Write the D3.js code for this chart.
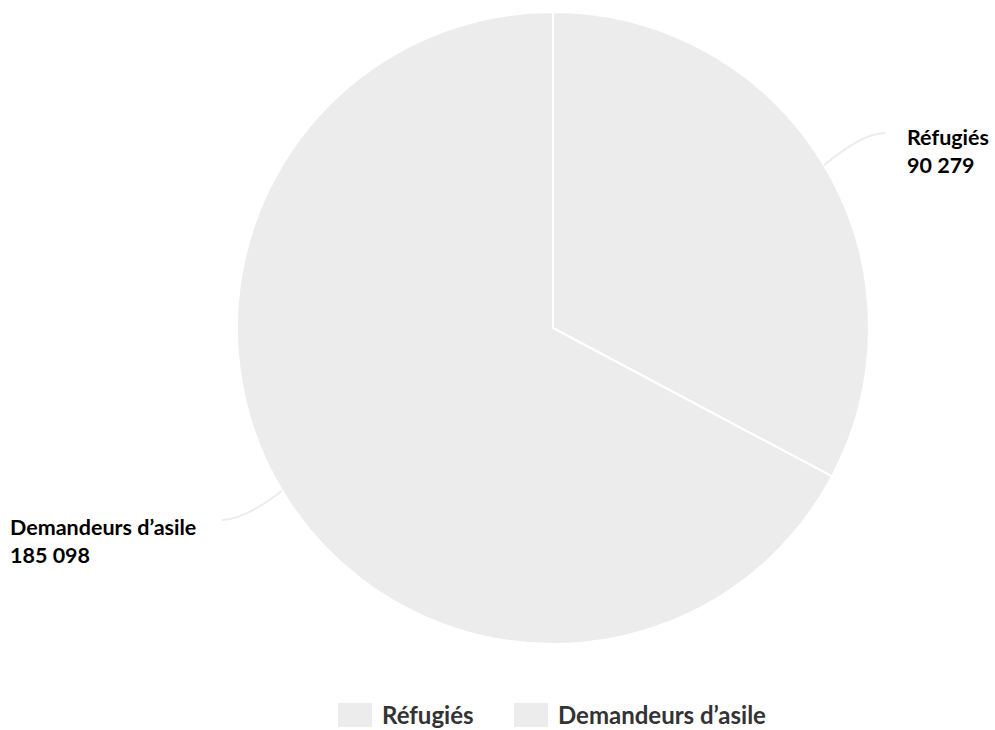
<!DOCTYPE html>
<html><head><meta charset="utf-8">
<script src="https://cdn.jsdelivr.net/npm/d3@7/dist/d3.min.js"></script>
<style>body{margin:0;background:#fff;font-family:Lato,sans-serif}</style>
</head><body><svg id="c" width="995" height="730"></svg>
<script>
const categories = ["Réfugiés", "Demandeurs d’asile"];
const values = [90279, 185098];
const valueLabels = ["90 279", "185 098"];

const svg = d3.select("#c");
const cx = 553, cy = 328, r = 316;
const color = d3.scaleOrdinal().domain(categories).range(["#ececec", "#ececec"]);
const data = categories.map((c, i) => ({cat: c, v: values[i], lab: valueLabels[i]}));
const pie = d3.pie().value(d => d.v).sort(null);
const arcs = pie(data);
const arc = d3.arc().innerRadius(0).outerRadius(r);
const g = svg.append("g").attr("transform", `translate(${cx},${cy})`);

arcs.forEach((a, i) => {
  const mid = (a.startAngle + a.endAngle) / 2;
  const p0 = [cx + r * Math.sin(mid), cy - r * Math.cos(mid)];
  const right = Math.sin(mid) > 0;
  const endX = right ? 885 : 222;
  const endY = right ? 133 : 520;
  const ctrl = [right ? endX - 22 : endX + 22, endY];
  const path = d3.path();
  path.moveTo(p0[0], p0[1]);
  path.quadraticCurveTo(ctrl[0], ctrl[1], endX, endY);
  svg.append("path").attr("d", path.toString()).attr("fill", "none")
    .attr("stroke", "#ececec").attr("stroke-width", 2);
});

g.selectAll("path.s").data(arcs).join("path").attr("class", "s")
  .attr("d", arc).attr("fill", d => color(d.data.cat))
  .attr("stroke", "#fff").attr("stroke-width", 2).attr("stroke-linejoin", "round");

arcs.forEach((a, i) => {
  const mid = (a.startAngle + a.endAngle) / 2;
  const right = Math.sin(mid) > 0;
  const x = right ? 907 : 10;
  const y = right ? 145 : 535;
  const t = svg.append("text").attr("x", x).attr("y", y)
    .attr("font-family", "Lato").attr("font-weight", 700).attr("font-size", 21.5).attr("fill", "#000");
  t.append("tspan").attr("x", x).text(a.data.cat);
  t.append("tspan").attr("x", x).attr("dy", 27.5).text(a.data.lab);
});

const leg = svg.append("g");
const legX = [338, 514];
categories.forEach((c, i) => {
  leg.append("rect").attr("x", legX[i]).attr("y", 703).attr("width", 34).attr("height", 24)
    .attr("fill", color(c));
  leg.append("text").attr("x", legX[i] + 44).attr("y", 724)
    .attr("font-family", "Lato").attr("font-weight", 700).attr("font-size", 24)
    .attr("fill", "#333").text(c);
});
</script></body></html>
